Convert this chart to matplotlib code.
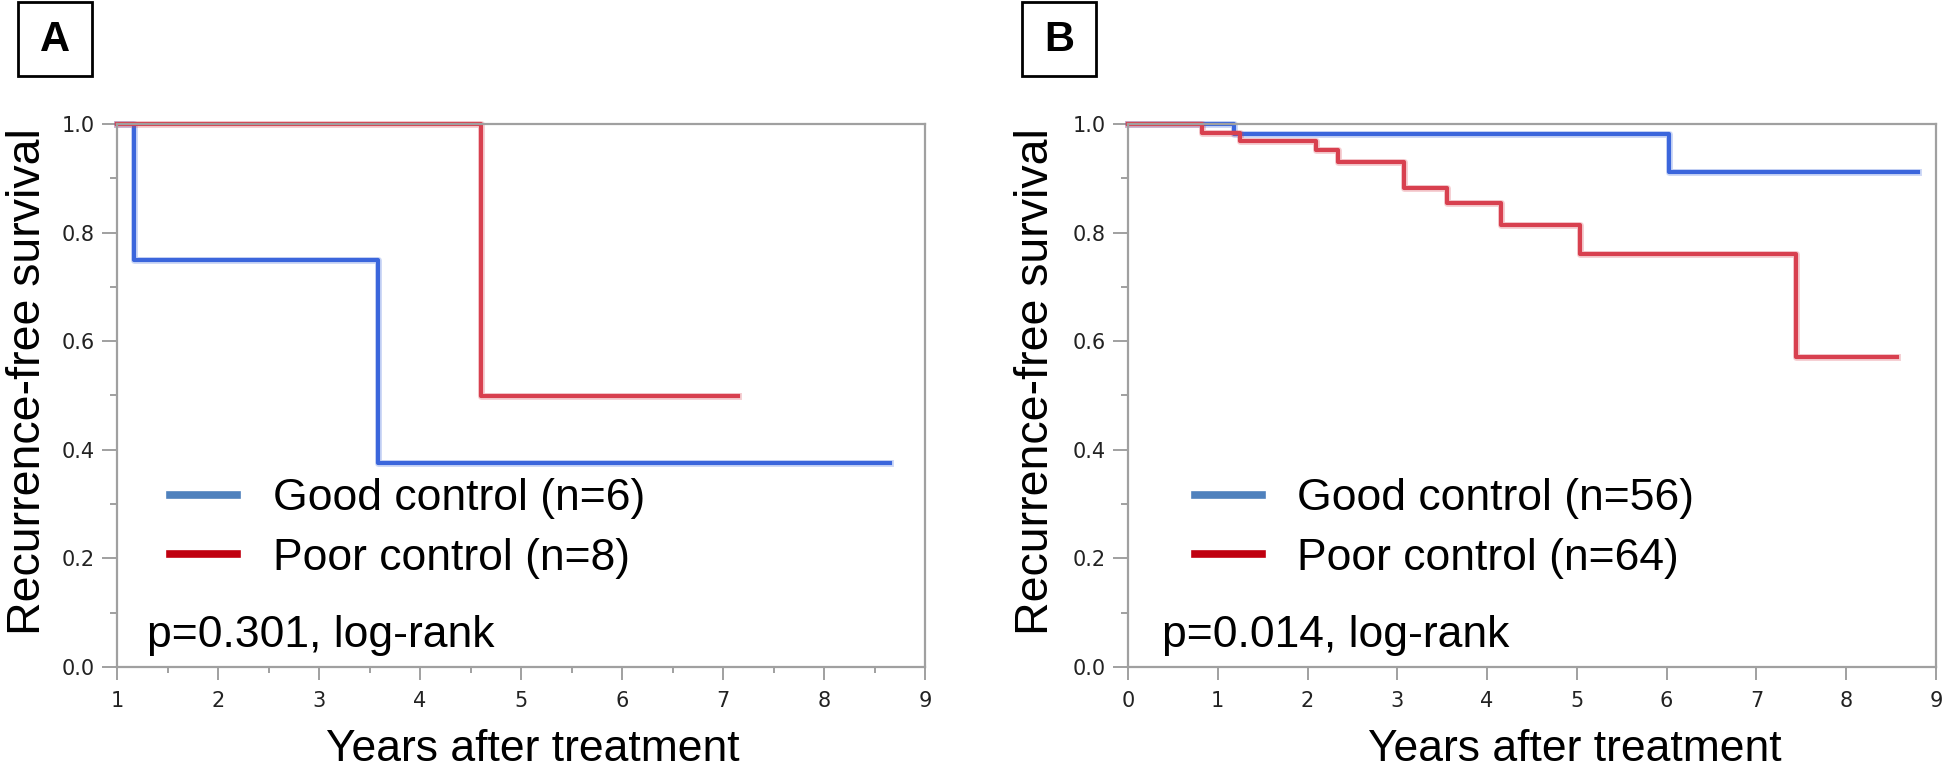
import numpy as np
import matplotlib

matplotlib.use("Agg")
import matplotlib.pyplot as plt
from matplotlib.lines import Line2D

# Kaplan-Meier step data
a_good_t = [1.0, 1.17, 3.58, 8.65]
a_good_s = [1.0, 0.75, 0.375, 0.375]
a_poor_t = [1.0, 4.6, 7.15]
a_poor_s = [1.0, 0.5, 0.5]

b_good_t = [0.0, 1.18, 6.03, 8.8]
b_good_s = [1.0, 0.982, 0.911, 0.911]
b_poor_t = [0.0, 0.82, 1.25, 2.09, 2.34, 3.07, 3.55, 4.16, 5.04, 7.44, 8.57]
b_poor_s = [1.0, 0.984, 0.969, 0.952, 0.93, 0.882, 0.854, 0.814, 0.761, 0.571, 0.571]

a_labels = ["Good control (n=6)", "Poor control (n=8)"]
b_labels = ["Good control (n=56)", "Poor control (n=64)"]
p_texts = ["p=0.301, log-rank", "p=0.014, log-rank"]

BLUE = "#3b66dc"
RED = "#d8404f"
LEG_BLUE = "#4f81bd"
LEG_RED = "#c00010"
GRAY = "#a0a0a0"
FONT = ["Liberation Sans", "DejaVu Sans"]

fig = plt.figure(figsize=(19.44, 7.69), dpi=100)
ax_a = fig.add_axes([117 / 1944, 1 - 667 / 769, 808 / 1944, 543 / 769])
ax_b = fig.add_axes([1128 / 1944, 1 - 667 / 769, 808 / 1944, 543 / 769])


def km(ax, t, s, color):
    # soft halo under the step line, like the original export
    ax.step(t, s, where="post", color=color, lw=5.0, alpha=0.25, clip_on=False)
    ax.step(t, s, where="post", color=color, lw=3.0, clip_on=False)


def style(ax, xmin, xminor):
    ax.set_xlim(xmin, 9)
    ax.set_ylim(0, 1)
    ax.set_xticks(np.arange(xmin, 10, 1))
    if xminor:
        ax.set_xticks(np.arange(xmin + 0.5, 9, 1), minor=True)
    ax.set_yticks(np.arange(0, 1.01, 0.2))
    ax.set_yticks(np.arange(0.1, 1.0, 0.2), minor=True)
    ax.set_yticklabels([f"{v:.1f}" for v in np.arange(0, 1.01, 0.2)])
    for sp in ax.spines.values():
        sp.set_color(GRAY)
        sp.set_linewidth(1.6)
    ax.tick_params(which="both", color=GRAY, width=1.4,
                   labelsize=15, labelcolor="#222222")
    ax.tick_params(axis="x", which="major", length=9, pad=8)
    ax.tick_params(axis="x", which="minor", length=4.5)
    ax.tick_params(axis="y", which="major", length=11, pad=5)
    ax.tick_params(axis="y", which="minor", length=5)
    for lab in ax.get_xticklabels() + ax.get_yticklabels():
        lab.set_family("DejaVu Sans")


km(ax_a, a_good_t, a_good_s, BLUE)
km(ax_a, a_poor_t, a_poor_s, RED)
style(ax_a, 1, True)

km(ax_b, b_good_t, b_good_s, BLUE)
km(ax_b, b_poor_t, b_poor_s, RED)
style(ax_b, 0, False)

for ax, labels, ptxt, lx, px in [(ax_a, a_labels, p_texts[0], 0.066, 0.037),
                                 (ax_b, b_labels, p_texts[1], 0.083, 0.042)]:
    handles = [Line2D([], [], color=LEG_BLUE, lw=5.5), Line2D([], [], color=LEG_RED, lw=5.5)]
    ax.legend(handles, labels, loc="center left", bbox_to_anchor=(lx, 0.255),
              frameon=False, borderpad=0, borderaxespad=0, handlelength=1.5,
              handletextpad=0.8, labelspacing=0.42,
              prop={"family": FONT, "size": 32})
    ax.text(px, 0.037, ptxt, transform=ax.transAxes, fontsize=32,
            family=FONT, va="baseline", ha="left")

# axis labels
for x_lab in [28, 1036]:
    fig.text(x_lab / 1944, 1 - 382 / 769, "Recurrence-free survival", rotation=90,
             fontsize=33.5, family=FONT, ha="center", va="center")
for x_c in [533, 1575]:
    fig.text(x_c / 1944, 1 - 761 / 769, "Years after treatment",
             fontsize=32, family=FONT, ha="center", va="baseline")

# panel letters in boxes
for x0, letter in [(18, "A"), (1022, "B")]:
    fig.patches.append(plt.Rectangle((x0 / 1944, 1 - 76 / 769), 74 / 1944, 74 / 769,
                                     transform=fig.transFigure, fill=False,
                                     edgecolor="black", lw=2))
    fig.text((x0 + 37) / 1944, 1 - 40 / 769, letter, fontsize=30, fontweight="bold",
             family=FONT, ha="center", va="center")

fig.savefig("out.png", dpi=100)
